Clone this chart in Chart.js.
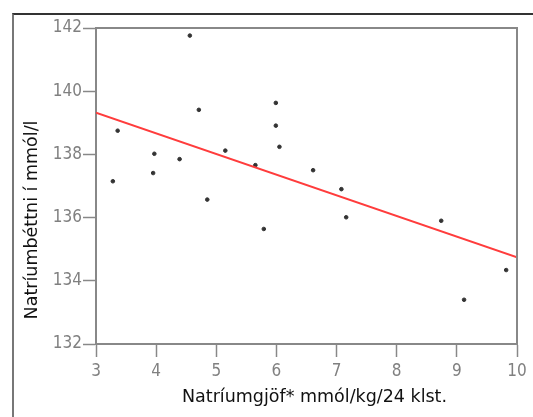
<!DOCTYPE html>
<html>
<head>
<meta charset="utf-8">
<script src="https://cdn.jsdelivr.net/npm/chart.js@4.4.1/dist/chart.umd.min.js"></script>
<style>
  html, body { margin: 0; padding: 0; background: #fff; }
  #wrap { position: relative; width: 533px; height: 417px; }
  #frame { position: absolute; left: 12px; top: 13px; right: 0; bottom: 0;
           border-top: 2px solid #333; border-left: 2px solid #777; }
  #chart { position: absolute; left: 0; top: 0; }
</style>
</head>
<body>
<div id="wrap">
  <div id="frame"></div>
  <canvas id="chart" width="533" height="417"></canvas>
</div>
<script>
// natríumgjöf (mmól/kg/24 klst.) og natríumþéttni (mmól/l)
var sodiumIntake = [3.28, 3.36, 3.95, 3.97, 4.39, 4.56, 4.71, 4.85, 5.15, 5.65,
                    5.79, 5.99, 5.99, 6.05, 6.61, 7.08, 7.16, 8.74, 9.12, 9.82];
var sodiumLevel  = [137.15, 138.75, 137.41, 138.02, 137.85, 141.76, 139.41, 136.57, 138.12, 137.66,
                    135.64, 139.63, 138.91, 138.24, 137.5, 136.9, 136.01, 135.9, 133.4, 134.34];
// aðhvarfslína
var fitX = [3, 10];
var fitY = [139.32, 134.74];

var xTicks = [3, 4, 5, 6, 7, 8, 9, 10];
var yTicks = [132, 134, 136, 138, 140, 142];

var xTitle = 'Natríumgjöf* mmól/kg/24 klst.';
var yTitle = 'Natríumbéttni í mmól/l';

var points = sodiumIntake.map(function (x, i) { return { x: x, y: sodiumLevel[i] }; });
var fitLine = fitX.map(function (x, i) { return { x: x, y: fitY[i] }; });

var tickFont = { family: "'DejaVu Sans Condensed', 'DejaVu Sans', sans-serif", size: 17 };
var titleFont = "17.5px 'DejaVu Sans', sans-serif";

// efri og hægri rammi um teiknisvæðið
var boxFrame = {
    id: 'boxFrame',
    afterDraw: function (chart) {
        var a = chart.chartArea, c = chart.ctx;
        c.save();
        c.strokeStyle = '#888';
        c.lineWidth = 2;
        c.beginPath();
        c.moveTo(a.left, a.top);
        c.lineTo(a.right, a.top);
        c.lineTo(a.right, a.bottom);
        c.stroke();
        c.restore();
    }
};

// ástitlar eru ekki miðjaðir á ásana í frumritinu, svo þeir eru teiknaðir hér
var axisTitles = {
    id: 'axisTitles',
    afterDraw: function (chart) {
        var a = chart.chartArea, c = chart.ctx;
        c.save();
        c.fillStyle = '#111';
        c.font = titleFont;
        c.textAlign = 'center';
        c.textBaseline = 'alphabetic';
        c.fillText(xTitle, (a.left + a.right) / 2 + 8, 402);
        c.translate(37, (a.top + a.bottom) / 2 + 34);
        c.rotate(-Math.PI / 2);
        c.fillText(yTitle, 0, 0);
        c.restore();
    }
};

var ctx = document.getElementById('chart');
var chart = new Chart(ctx, {
    type: 'scatter',
    data: {
        datasets: [{
            label: 'Mælingar',
            data: points,
            backgroundColor: '#333',
            borderColor: '#333',
            pointRadius: 1.8,
            pointHoverRadius: 1.8,
            order: 2
        }, {
            type: 'line',
            label: 'Aðhvarf',
            data: fitLine,
            borderColor: '#ff3c3c',
            borderWidth: 2,
            pointRadius: 0,
            fill: false,
            order: 1
        }]
    },
    options: {
        responsive: false,
        animation: false,
        events: [],
        layout: {
            padding: { left: 13, top: 28, right: 16, bottom: 0 }
        },
        plugins: {
            legend: { display: false },
            tooltip: { enabled: false }
        },
        scales: {
            x: {
                type: 'linear',
                min: 3,
                max: 10,
                afterBuildTicks: function (s) { s.ticks = xTicks.map(function (v) { return { value: v }; }); },
                afterFit: function (s) { s.height = 73; },
                grid: {
                    drawOnChartArea: false,
                    tickLength: 13,
                    tickColor: '#888',
                    tickWidth: 1.5
                },
                border: { color: '#888', width: 2 },
                ticks: { color: '#808080', font: tickFont, padding: 4, maxRotation: 0 }
            },
            y: {
                type: 'linear',
                min: 132,
                max: 142,
                afterBuildTicks: function (s) { s.ticks = yTicks.map(function (v) { return { value: v }; }); },
                afterFit: function (s) { s.width = 83; },
                grid: {
                    drawOnChartArea: false,
                    tickLength: 13,
                    tickColor: '#888',
                    tickWidth: 1.5
                },
                border: { color: '#888', width: 2 },
                ticks: { color: '#808080', font: tickFont, padding: 1 }
            }
        }
    },
    plugins: [boxFrame, axisTitles]
});
</script>
</body>
</html>
